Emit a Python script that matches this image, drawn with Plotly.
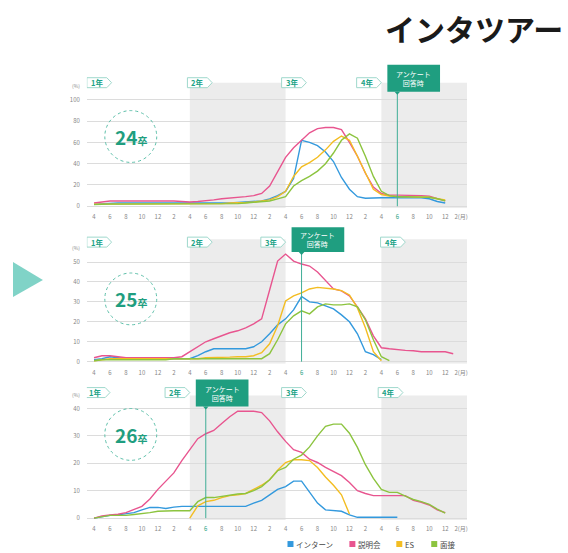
import plotly.graph_objects as go

# ---------------- data (months counted from April of 1st year: 0 = 1年4月) ----------------
month_ticks = list(range(0, 47, 2))
month_labels = ["4", "6", "8", "10", "12", "2"] * 3 + ["4", "6", "8", "10", "12", "2(月)"]

series_names = ["インターン", "説明会", "ES", "面接"]
series_colors = ["#3399dd", "#e8558f", "#f3bd22", "#8cc43f"]

# 24卒
intern24 = [2, 2.5, 3, 3, 3, 3, 3, 3, 3, 3, 3, 3,
            2.5, 2.5, 3, 3, 3, 3, 3.5, 4, 4, 5, 7, 10,
            14, 26, 62, 60, 57, 51, 42, 27, 16, 9, 7.5, 8,
            8, 8, 8, 8, 8, 8, 7, 4.5, 3]
setsumei24 = [3, 4, 5, 5, 5, 5, 5, 5, 5.5, 5.5, 5, 4.5,
              4, 4.5, 5, 6, 7, 7.5, 8.5, 9, 10, 12, 19, 32,
              46, 55, 62, 69, 73, 74, 74, 72, 60, 47, 31, 18,
              12, 10.5, 10.5, 10.5, 10, 10, 9.5, 7, 5]
es24 = [2, 2, 2.5, 2.5, 2.5, 2.5, 2.5, 2.5, 2.5, 2.5, 2.5, 2.5,
        2, 2, 2, 2.5, 2.5, 3, 3, 3.5, 4, 5, 6, 9,
        14, 28, 37, 41, 46, 53, 61, 66, 62, 47, 31, 16,
        11, 9.5, 9, 9, 9, 9, 8.5, 7, 6]
mensetsu24 = [1.5, 2, 2, 2, 2, 2, 2, 2, 2, 2, 2, 2,
              2, 2, 2, 2, 2, 2.5, 2.5, 3, 3.5, 4, 5, 7,
              9, 19, 24, 28, 33, 40, 50, 62, 68, 64, 47, 28,
              14, 10, 9, 9, 9, 9, 8.5, 7, 5]

# 25卒
intern25 = [1, 1.5, 2.5, 2, 1.5, 1.5, 1.5, 1.5, 1.5, 1.5, 1.5, 1.5,
            1.5, 3, 5, 6.5, 6.5, 6.3, 6.3, 6.5, 7.5, 10, 14, 18.5,
            21.5, 26, 32.7, 30, 29.5, 28, 26.5, 23.5, 20, 14, 5, 3.5,
            1]
setsumei25 = [2, 3, 3, 2.5, 2, 2, 2, 2, 2, 2, 2, 2.5,
              5, 7.5, 10, 11.5, 13, 14.5, 15.5, 17, 19, 21.5, 36, 50.5,
              54, 50.5, 49, 48, 45, 41, 36.5, 35.5, 33, 27.5, 21.5, 13,
              7, 6.5, 6, 5.7, 5.5, 5, 5, 5, 5, 4]
es25 = [0.5, 1, 1.5, 1.5, 1.5, 1.5, 1.5, 1.5, 1.5, 1.5, 1.5, 1.5,
        1.5, 1.5, 2, 2, 2, 2.3, 2.5, 2.5, 3, 4.5, 9, 18,
        30.5, 33, 34.5, 36.5, 37.3, 37, 36.5, 35.7, 33.5, 27, 17, 5,
        0.5]
mensetsu25 = [0.5, 1, 1, 1, 1, 1, 1, 1, 1, 1, 1.5, 1.5,
              1.5, 1.5, 1.5, 1.5, 1.5, 1.5, 1.5, 1.5, 1.5, 1.5, 4, 11,
              19, 23, 25.5, 24, 27.5, 29, 28.5, 28.5, 29, 27.5, 21, 11,
              2.5, 0.5]

# 26卒
intern26 = [0, 0.5, 1, 1.2, 1.5, 2, 3, 3.9, 3.9, 3.5, 4, 4.3,
            4.3, 4.3, 4.3, 4.3, 4.3, 4.3, 4.3, 4.3, 5.5, 6.5, 8.5, 10.5,
            11.5, 13.5, 13.5, 9.5, 5.5, 3, 2.7, 2.5, 1.2, 0.3, 0.3, 0.3,
            0.3, 0.3, 0.3]
setsumei26 = [0, 0.8, 1.2, 1.4, 2, 3.3, 4.3, 7, 10.5, 13.5, 16.5, 21,
              25, 29, 30.8, 32, 34.5, 37, 39, 39, 39, 38.5, 35.5, 31.5,
              28, 25, 24, 21.5, 20.3, 18.5, 17, 15.5, 13, 10, 9, 8.2,
              8.2, 8.2, 8.2, 8.2, 6.5, 5.8, 4.8, 3, 2]
es26 = [None] * 12 + [0, 4.5, 6, 6.5, 7.5, 8.2, 8.5, 9, 10.5, 12, 14, 17.5,
                      20.3, 21.3, 21.3, 21, 18.5, 15, 12, 8.5, 1.5]
mensetsu26 = [0, 0.5, 1, 1, 1, 1.3, 1.6, 2, 2.5, 2.7, 2.7, 2.7,
              2.7, 6, 7.5, 7.5, 8, 8.5, 8.8, 9, 10, 11.5, 14, 17.3,
              18.5, 21.5, 23, 26, 30, 33.5, 34.3, 34.3, 31, 25.8, 19.5, 14.5,
              10.5, 9.4, 9.4, 8, 6.8, 6, 5, 3.3, 1.8]

cohort_labels = ["24", "25", "26"]
survey_month = [38, 26, 14]          # アンケート回答時 (6月)
y_ticks = [[0, 20, 40, 60, 80, 100], [0, 10, 20, 30, 40, 50], [0, 10, 20, 30, 40]]
panel_data = [
    [intern24, setsumei24, es24, mensetsu24],
    [intern25, setsumei25, es25, mensetsu25],
    [intern26, setsumei26, es26, mensetsu26],
]

# ---------------- layout helpers (pixels of the 568x553 canvas) ----------------
W, H = 568, 553
FONT = "Noto Sans CJK JP"
TEAL = "#1f9e80"
TEAL_TXT = "#22a386"
TAG_LINE = "#9fd8cc"


def fx(px):
    return px / W


def fy(py):
    return 1 - py / H


X_LEFT_PX, X_RIGHT_PX = 87, 468
X_RANGE = [-0.9, 46.75]

panels = [
    dict(zero=207, scale=1.068, top=76, bottom=209, shade=83, tag=(78, 88), box=(65, 92), circ=137,
         tags=[-0.9, 11.7, 23.5, 32.9]),
    dict(zero=363, scale=2.0, top=226, bottom=365, shade=240, tag=(238, 248), box=(228, 253), circ=300,
         tags=[-0.9, 11.7, 20.9, 35.9]),
    dict(zero=520, scale=2.75, top=379, bottom=522, shade=397, tag=(389, 399), box=(381, 408), circ=436,
         tags=[-1.1, 8.9, 23.5, 35.6]),
]
year_names = ["1年", "2年", "3年", "4年"]

fig = go.Figure()
layout = dict(
    width=W, height=H, margin=dict(l=0, r=0, t=0, b=0),
    paper_bgcolor="white", plot_bgcolor="rgba(0,0,0,0)",
    font=dict(family=FONT, color="#555"),
    showlegend=False,
)
shapes, annotations = [], []

for p, cfg in enumerate(panels):
    n = "" if p == 0 else str(p + 1)
    xa, ya = "x" + n, "y" + n
    rng = [(cfg["zero"] - cfg["bottom"]) / cfg["scale"], (cfg["zero"] - cfg["top"]) / cfg["scale"]]
    sv = survey_month[p]
    ticktext = []
    for v, t in zip(month_ticks, month_labels):
        ticktext.append(f"<span style='color:{TEAL}'>{t}</span>" if v == sv else t)
    layout["xaxis" + n] = dict(domain=[fx(X_LEFT_PX), fx(X_RIGHT_PX)], range=X_RANGE, anchor=ya,
                               tickvals=month_ticks, ticktext=ticktext, showgrid=False, zeroline=False,
                               showline=False, ticks="", ticklabelstandoff=4,
                               tickfont=dict(size=6, color="#888"), fixedrange=True)
    layout["yaxis" + n] = dict(domain=[fy(cfg["bottom"]), fy(cfg["top"])], range=rng, anchor=xa,
                               tickvals=y_ticks[p], showgrid=True, gridcolor="#dcdcdc", gridwidth=0.8,
                               zeroline=False, showline=False, ticks="", ticklabelstandoff=6,
                               tickfont=dict(size=6, color="#888"), fixedrange=True)

    # shaded years (2年, 4年)
    shade_top = (cfg["zero"] - cfg["shade"]) / cfg["scale"]
    for x0, x1 in [(12, 24), (36, X_RANGE[1])]:
        shapes.append(dict(type="rect", xref=xa, yref=ya, x0=x0, x1=x1, y0=rng[0], y1=shade_top,
                           fillcolor="#ececec", line=dict(width=0), layer="below"))

    # series lines
    for name, color, vals in zip(series_names, series_colors, panel_data[p]):
        fig.add_trace(go.Scatter(x=list(range(len(vals))), y=vals, mode="lines", name=name,
                                 line=dict(color=color, width=1.4), xaxis=xa, yaxis=ya,
                                 connectgaps=False, hoverinfo="skip"))

    # (%) unit
    annotations.append(dict(xref="paper", yref="paper", x=fx(76), y=fy(cfg["zero"] - y_ticks[p][-1] * cfg["scale"] - 9),
                            text="(%)", showarrow=False, font=dict(size=5, color="#888"),
                            xanchor="center", yanchor="bottom"))

    # year tags
    t0, t1 = cfg["tag"]
    for left, label in zip(cfg["tags"], year_names):
        w, tip = 3.1, 0.6
        path = (f"M {left},{fy(t0)} L {left + w - tip},{fy(t0)} L {left + w},{fy((t0 + t1) / 2)} "
                f"L {left + w - tip},{fy(t1)} L {left},{fy(t1)} Z")
        shapes.append(dict(type="path", xref=xa, yref="paper", path=path, fillcolor="white",
                           line=dict(color=TAG_LINE, width=1)))
        annotations.append(dict(xref=xa, yref="paper", x=left + 1.25, y=fy((t0 + t1) / 2), text="<b>" + label + "</b>",
                                showarrow=False, font=dict(size=7.5, color=TEAL_TXT), xanchor="center", yanchor="middle"))

    # survey marker
    b0, b1 = cfg["box"]
    shapes.append(dict(type="line", xref=xa, yref="paper", x0=sv, x1=sv, y0=fy(b1), y1=fy(cfg["zero"]),
                       line=dict(color="#3fae97", width=1)))
    shapes.append(dict(type="rect", xref=xa, yref="paper", x0=sv - 1.25, x1=sv - 1.25 + 6.6,
                       y0=fy(b1), y1=fy(b0), fillcolor=TEAL, line=dict(width=0)))
    shapes.append(dict(type="path", xref=xa, yref="paper",
                       path=f"M {sv - 0.35},{fy(b1)} L {sv + 0.35},{fy(b1)} L {sv},{fy(b1 + 3)} Z",
                       fillcolor=TEAL, line=dict(width=0)))
    annotations.append(dict(xref=xa, yref="paper", x=sv - 1.25 + 3.3, y=fy((b0 + b1) / 2),
                            text="アンケート<br>回答時", showarrow=False, align="center",
                            font=dict(size=7, color="white"), xanchor="center", yanchor="middle"))

    # cohort circle
    cx, cy, r = 131, cfg["circ"], 26
    shapes.append(dict(type="circle", xref="paper", yref="paper", x0=fx(cx - r), x1=fx(cx + r),
                       y0=fy(cy + r), y1=fy(cy - r), fillcolor="rgba(255,255,255,0)",
                       line=dict(color="#5cbfa9", width=1, dash="dot")))
    annotations.append(dict(xref="paper", yref="paper", x=fx(cx), y=fy(cy), showarrow=False,
                            text=f"<b>{cohort_labels[p]}</b><span style='font-size:10px'><b>卒</b></span>",
                            font=dict(size=19, color=TEAL), xanchor="center", yanchor="middle"))

# title
annotations.append(dict(xref="paper", yref="paper", x=fx(566), y=fy(28), text="<b>インタツアー</b>",
                        showarrow=False, font=dict(size=30, color="#1a1a1a"), xanchor="right", yanchor="middle"))

# left triangle
shapes.append(dict(type="path", xref="paper", yref="paper",
                   path=f"M {fx(13)},{fy(263)} L {fx(43)},{fy(281)} L {fx(13)},{fy(298)} Z",
                   fillcolor="#80d3c7", line=dict(width=0)))

# legend
legend_x = [288, 350, 397, 432]
for lx, name, color in zip(legend_x, series_names, series_colors):
    shapes.append(dict(type="rect", xref="paper", yref="paper", x0=fx(lx), x1=fx(lx + 6),
                       y0=fy(549), y1=fy(543), fillcolor=color, line=dict(width=0)))
    annotations.append(dict(xref="paper", yref="paper", x=fx(lx + 7), y=fy(546), text=name, showarrow=False,
                            font=dict(size=7.5, color="#444"), xanchor="left", yanchor="middle"))

layout["shapes"] = shapes
layout["annotations"] = annotations
fig.update_layout(**layout)
fig.write_html("out.html", config={"displayModeBar": False},
               post_script="document.body.style.margin='0';document.body.style.overflow='hidden';")
